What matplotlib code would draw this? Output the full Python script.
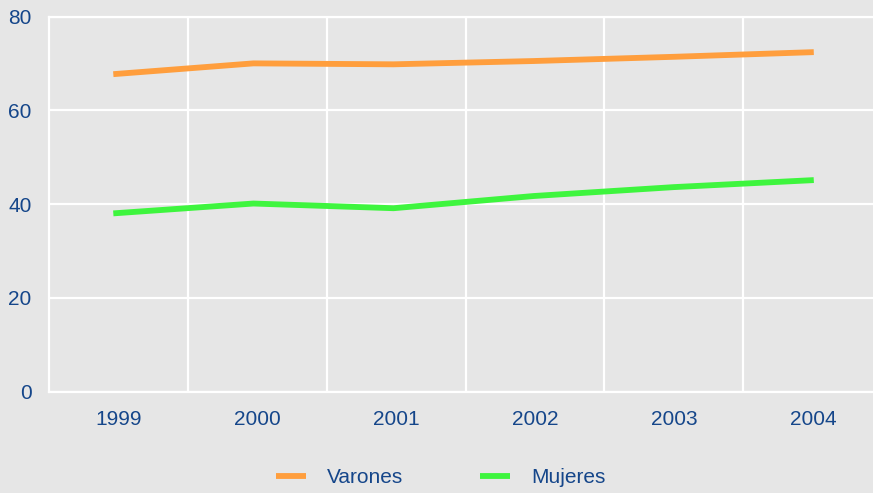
import matplotlib
matplotlib.use("Agg")
import matplotlib.pyplot as plt
from matplotlib.ticker import FixedLocator

years = ["1999", "2000", "2001", "2002", "2003", "2004"]
varones = [67.7, 70.0, 69.8, 70.5, 71.4, 72.4]
mujeres = [38.0, 40.1, 39.1, 41.7, 43.6, 45.1]
yticks = [0, 20, 40, 60, 80]

plt.rcParams['font.family'] = ['Liberation Sans', 'DejaVu Sans']
txt = '#15468a'
bg = '#e6e6e6'

fig = plt.figure(figsize=(8.73, 4.93), dpi=100, facecolor=bg)
ax = fig.add_axes([49/873, (493-391.5)/493, (882-49)/873, 375/493])
ax.set_facecolor(bg)

x = list(range(len(years)))
ax.plot(x, varones, color='#ff9e3d', lw=4.2, solid_capstyle='butt', label='Varones', zorder=3)
ax.plot(x, mujeres, color='#3ef53e', lw=4.2, solid_capstyle='butt', label='Mujeres', zorder=3)

ax.set_xlim(-0.459, 5.487)
ax.set_ylim(0, 80)

# category boundaries (gridlines) and label positions
bounds = [0.531 + 0.9915 * k for k in range(5)]
labpos = [0.036 + 0.9915 * k for k in range(len(years))]
ax.xaxis.set_major_locator(FixedLocator(labpos))
ax.set_xticklabels(years)
ax.xaxis.set_minor_locator(FixedLocator(bounds))
ax.set_yticks(yticks)
ax.tick_params(axis='x', which='major', length=0, pad=13, labelsize=15, labelcolor=txt)
ax.tick_params(axis='x', which='minor', length=0)
ax.tick_params(axis='y', length=0, pad=12.5, labelsize=15, labelcolor=txt)
ax.grid(axis='y', which='major', color='white', lw=1.6)
ax.grid(axis='x', which='minor', color='white', lw=1.6)
ax.grid(axis='x', which='major', visible=False)
ax.set_axisbelow(True)
for s in ['left', 'bottom', 'top']:
    ax.spines[s].set_color('white')
    ax.spines[s].set_linewidth(1.6)
ax.spines['right'].set_visible(False)

leg = fig.legend(loc='center', bbox_to_anchor=(0.5046, 0.031), ncol=2, frameon=False,
                 fontsize=15, handlelength=1.44, handletextpad=1.0, columnspacing=3.7)
for t in leg.get_texts():
    t.set_color(txt)

fig.savefig('out.png', dpi=100, facecolor=bg)
